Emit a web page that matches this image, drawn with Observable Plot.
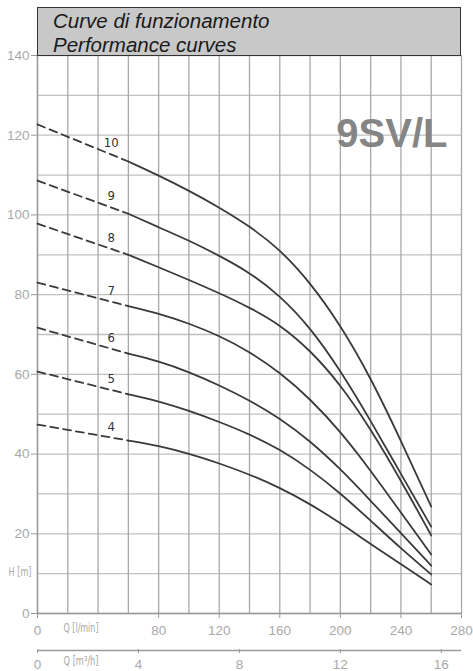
<!DOCTYPE html>
<html>
<head>
<meta charset="utf-8">
<script src="https://cdn.jsdelivr.net/npm/d3@7"></script>
<script src="https://cdn.jsdelivr.net/npm/@observablehq/plot@0.6"></script>
<style>
  body { margin: 0; background: #fff; }
  #wrap { position: relative; width: 473px; height: 671px; }
  #title {
    position: absolute; left: 37px; top: 7px; width: 424px; height: 49px;
    box-sizing: border-box; background: #c8c8c8; border: 1.5px solid #333;
    font-family: "Liberation Sans", Arial, sans-serif; font-style: italic;
    font-size: 20.5px; color: #1a1a1a; padding-left: 15px; line-height: 23.5px; padding-top: 1px;
  }
  g[font-family*="Condensed"] { font-stretch: condensed; }
</style>
</head>
<body>
<div id="wrap"><div id="title">Curve di funzionamento<br>Performance curves</div></div>
<script>
// ---- data ----
const stages = [4, 5, 6, 7, 8, 9, 10];
const qDashed = [0, 60];
const hShutoff = [47.4, 60.7, 71.7, 83.0, 97.8, 108.6, 122.7];   // H at Q = 0 (dashed start)
const qSolid = [60, 80, 100, 120, 140, 160, 180, 200, 220, 240, 260];
const h4  = [43.4, 42.1, 40.1, 37.7, 34.9, 31.6, 27.5, 22.7, 17.4, 12.4, 7.3];
const h5  = [55.0, 53.3, 50.9, 48.1, 45.0, 41.2, 36.2, 30.2, 23.3, 16.3, 9.8];
const h6  = [65.2, 63.3, 60.6, 57.3, 53.5, 49.0, 43.3, 36.3, 28.3, 20.2, 12.0];
const h7  = [77.1, 75.3, 72.8, 69.7, 65.7, 60.5, 53.9, 45.7, 35.9, 25.3, 14.8];
const h8  = [90.0, 86.9, 83.7, 80.4, 76.8, 72.5, 66.1, 57.5, 46.3, 33.4, 19.6];
const h9  = [100.3, 96.9, 93.6, 89.8, 85.6, 79.8, 71.8, 61.0, 48.4, 35.0, 21.8];
const h10 = [113.4, 109.9, 106.1, 101.9, 97.2, 91.4, 83.1, 72.4, 59.2, 43.4, 26.8];
const solidSeries = [h4, h5, h6, h7, h8, h9, h10];

const yTicks = [0, 20, 40, 60, 80, 100, 120, 140];
const xTicks = [0, 80, 120, 160, 200, 240, 280];          // l/min labels
const m3hTicks = [0, 4, 8, 12, 16];                      // m³/h labels
const xGrid = d3.range(0, 281, 20);
const yGrid = d3.range(0, 141, 10);
const labelQ = 48;

// ---- tables built from the arrays ----
const solid = [];
stages.forEach((s, i) => qSolid.forEach((q, j) => solid.push({stage: s, q, h: solidSeries[i][j]})));
const dashed = [];
stages.forEach((s, i) => {
  dashed.push({stage: s, q: qDashed[0], h: hShutoff[i]});
  dashed.push({stage: s, q: qDashed[1], h: solidSeries[i][0]});
});
const labels = stages.map((s, i) => ({
  stage: String(s), q: labelQ,
  h: hShutoff[i] + (solidSeries[i][0] - hShutoff[i]) * labelQ / qDashed[1]
}));

const grayText = "#a9a9a9";
const lineColor = "#3a3a3a";
const narrow = "'DejaVu Sans Condensed', 'DejaVu Sans', sans-serif";

const chart = Plot.plot({
  width: 473, height: 671,
  marginLeft: 37, marginRight: 12, marginTop: 55, marginBottom: 58,
  x: {domain: [0, 280]},
  y: {domain: [0, 140]},
  style: {fontFamily: "'Liberation Sans', Arial, sans-serif", background: "transparent"},
  marks: [
    Plot.ruleY(yGrid, {stroke: "#c0c0c0", strokeWidth: 1.3}),
    Plot.ruleX(xGrid, {stroke: "#a8a8a8", strokeWidth: 1.3}),
    Plot.ruleY([0], {stroke: "#9a9a9a", strokeWidth: 1.4}),
    Plot.ruleX([0], {stroke: "#9a9a9a", strokeWidth: 1.4}),
    Plot.line(dashed, {x: "q", y: "h", z: "stage", stroke: lineColor, strokeWidth: 1.8, strokeDasharray: "8,5"}),
    Plot.line(solid, {x: "q", y: "h", z: "stage", stroke: lineColor, strokeWidth: 1.8, curve: "basis"}),
    Plot.text(labels, {x: "q", y: "h", text: "stage", dy: -11, dx: 1, fill: "#333", fontSize: 13, fontFamily: narrow}),
    Plot.axisY({ticks: yTicks, tickSize: 6, tickPadding: 2, fontSize: 13.5, color: grayText, stroke: "#9a9a9a", label: null}),
    Plot.axisX({ticks: xTicks, tickSize: 5, tickPadding: 7, fontSize: 13.5, color: grayText, stroke: "#9a9a9a", label: null}),
    Plot.ruleY([0], {dy: 37, stroke: "#9a9a9a", strokeWidth: 1.4}),
    Plot.axisX({ticks: m3hTicks.map(v => v * 1000 / 60), tickFormat: v => String(Math.round(v * 60 / 1000)),
      dy: 36, tickSize: 4, tickPadding: 6, fontSize: 13.5, color: grayText, stroke: "#9a9a9a", label: null}),
    Plot.text(["Q [l/min]"], {frameAnchor: "bottom-left", dx: 26, dy: 18.5, textAnchor: "start", fontSize: 12.5, fill: grayText, fontFamily: narrow}),
    Plot.text(["Q [m³/h]"], {frameAnchor: "bottom-left", dx: 26, dy: 51.5, textAnchor: "start", fontSize: 12.5, fill: grayText, fontFamily: narrow}),
    Plot.text(["H [m]"], {frameAnchor: "bottom-left", dx: -6, dy: -38, textAnchor: "end", fontSize: 12.5, fill: grayText, fontFamily: narrow}),
    Plot.text(["9SV/L"], {frameAnchor: "top-right", dx: -14, dy: 79, textAnchor: "end", lineAnchor: "middle",
      fontSize: 40, fontWeight: "bold", fill: "#858585"})
  ]
});
// squeeze the unit labels to the narrow widths of the original
const unitWidths = {"Q [l/min]": 35, "Q [m³/h]": 35, "H [m]": 23};
d3.select(chart).selectAll("text").each(function() {
  const w = unitWidths[this.textContent];
  if (w) d3.select(this).attr("textLength", w).attr("lengthAdjust", "spacingAndGlyphs");
});
chart.style.position = "absolute";
chart.style.left = "0px";
chart.style.top = "0px";
const wrap = document.getElementById("wrap");
wrap.insertBefore(chart, wrap.firstChild);
</script>
</body>
</html>
